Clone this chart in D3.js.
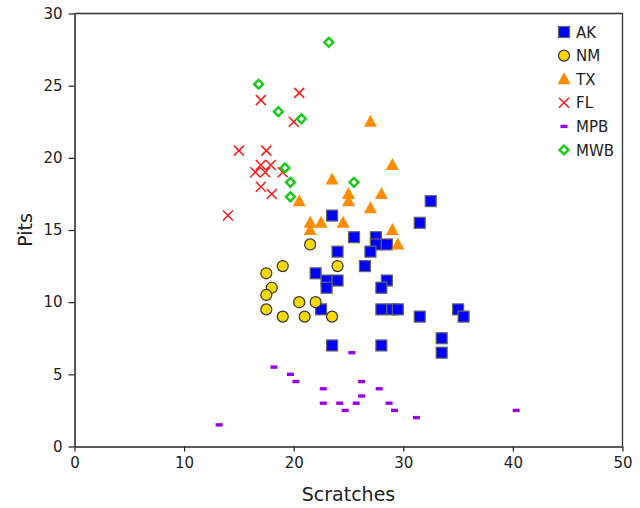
<!DOCTYPE html>
<html>
<head>
<meta charset="utf-8">
<script src="https://cdn.jsdelivr.net/npm/d3@7"></script>
<style>
  body { margin: 0; background: #fff; }
  text { font-family: "DejaVu Sans", Verdana, sans-serif; fill: #222; }
</style>
</head>
<body>
<div id="chart"></div>
<script>
// data: [scratches, pits]
var AK = [[32.5,17],[31.5,15.5],[23.5,16],[25.5,14.5],[27.5,14.5],[27.5,14],[28.5,14],
          [27,13.5],[24,13.5],[26.5,12.5],[22,12],[23,11.5],[24,11.5],[23,11],[28.5,11.5],
          [28,11],[22.5,9.5],[28,9.5],[29,9.5],[29.5,9.5],[31.5,9],[35,9.5],[35.5,9],
          [23.5,7],[28,7],[33.5,7.5],[33.5,6.5]];
var NM = [[21.5,14],[19,12.5],[17.5,12],[24,12.5],[18,11],[17.5,10.5],[20.5,10],[22,10],
          [17.5,9.5],[19,9],[21,9],[23.5,9]];
var TX = [[27,22.5],[29,19.5],[23.5,18.5],[25,17.5],[25,17],[28,17.5],[27,16.5],[20.5,17],
          [21.5,15.5],[22.5,15.5],[24.5,15.5],[21.5,15],[29,15],[29.5,14]];
var FL = [[20.5,24.5],[17,24],[20,22.5],[15,20.5],[17.5,20.5],[17,19.5],[17.9,19.5],
          [16.5,19],[17.4,19],[19,19],[17,18],[18,17.5],[14,16]];
var MPB = [[25.3,6.5],[18.2,5.5],[19.7,5],[20.2,4.5],[26.2,4.5],[22.7,4],[27.8,4],[26.2,3.5],
           [22.7,3],[24.2,3],[25.7,3],[28.7,3],[24.7,2.5],[29.2,2.5],[31.2,2],[40.3,2.5],[13.2,1.5]];
var MWB = [[23.2,28],[16.8,25.1],[18.6,23.2],[20.7,22.7],[19.2,19.3],[19.7,18.3],[19.7,17.3],[25.5,18.3]];

var seriesNames = ["AK", "NM", "TX", "FL", "MPB", "MWB"];
var seriesData = [AK, NM, TX, FL, MPB, MWB];
var xTicks = [0, 10, 20, 30, 40, 50];
var yTicks = [0, 5, 10, 15, 20, 25, 30];

var W = 640, H = 508;
var svg = d3.select("#chart").append("svg")
  .attr("width", W).attr("height", H);

var x = d3.scaleLinear().domain([0, 50]).range([74.5, 622.5]);
var y = d3.scaleLinear().domain([0, 30]).range([446.5, 13.5]);

// frame (top + right)
svg.append("path")
  .attr("d", "M" + x(0) + "," + y(30) + "H" + x(50) + "V" + y(0))
  .attr("fill", "none").attr("stroke", "#333").attr("stroke-width", 1.3);

var xAxis = svg.append("g")
  .attr("transform", "translate(0," + y(0) + ")")
  .call(d3.axisBottom(x).tickValues(xTicks).tickSize(5).tickSizeOuter(0).tickPadding(6));
var yAxis = svg.append("g")
  .attr("transform", "translate(" + x(0) + ",0)")
  .call(d3.axisLeft(y).tickValues(yTicks).tickSize(6).tickSizeOuter(0).tickPadding(6));

[xAxis, yAxis].forEach(function(a) {
  a.select(".domain").attr("stroke", "#222").attr("stroke-width", 1.5);
  a.selectAll(".tick line").attr("stroke", "#222").attr("stroke-width", 1.2);
  a.selectAll(".tick text").style("font-size", "15px")
    .style("font-family", "DejaVu Sans, Verdana, sans-serif").attr("fill", "#222");
});

svg.append("text")
  .attr("x", (x(0) + x(50)) / 2).attr("y", 501)
  .attr("text-anchor", "middle").style("font-size", "19px")
  .text("Scratches");
svg.append("text")
  .attr("transform", "translate(32," + 230 + ")rotate(-90)")
  .attr("text-anchor", "middle").style("font-size", "19px")
  .text("Pits");

// marker drawers
function drawMarker(g, name) {
  if (name === "AK") {
    g.append("rect").attr("x", -5.5).attr("y", -5.5).attr("width", 11).attr("height", 11)
      .attr("fill", "#0000ff").attr("stroke", "#666").attr("stroke-width", 1.2);
  } else if (name === "NM") {
    g.append("circle").attr("r", 5.5)
      .attr("fill", "#f7d800").attr("stroke", "#333").attr("stroke-width", 1.2);
  } else if (name === "TX") {
    g.append("path").attr("d", "M0,-7L6.5,5L-6.5,5Z").attr("fill", "#ff8c00");
  } else if (name === "FL") {
    g.append("path").attr("d", "M-5,-5L5,5M-5,5L5,-5")
      .attr("stroke", "#ff1a1a").attr("stroke-width", 1.5);
  } else if (name === "MPB") {
    g.append("rect").attr("x", -3.5).attr("y", -1.7).attr("width", 7).attr("height", 3.4)
      .attr("fill", "#9a00f0");
  } else if (name === "MWB") {
    g.append("path").attr("d", "M0,-4.4L4.4,0L0,4.4L-4.4,0Z")
      .attr("fill", "#fff").attr("stroke", "#15cc15").attr("stroke-width", 2.4);
  }
}

seriesNames.forEach(function(name, i) {
  svg.append("g").selectAll("g")
    .data(seriesData[i])
    .enter()
    .append("g")
      .attr("transform", function(d) { return "translate(" + x(d[0]) + "," + y(d[1]) + ")"; })
      .each(function() { drawMarker(d3.select(this), name); });
});

// legend
var legend = svg.append("g").selectAll("g")
  .data(seriesNames)
  .enter()
  .append("g")
    .attr("transform", function(d, i) { return "translate(564," + (32 + i * 23.6) + ")"; });
legend.each(function(d) { drawMarker(d3.select(this), d); });
legend.append("text")
  .attr("x", 12).attr("y", 5.5)
  .style("font-size", "15px")
  .text(function(d) { return d; });
</script>
</body>
</html>
